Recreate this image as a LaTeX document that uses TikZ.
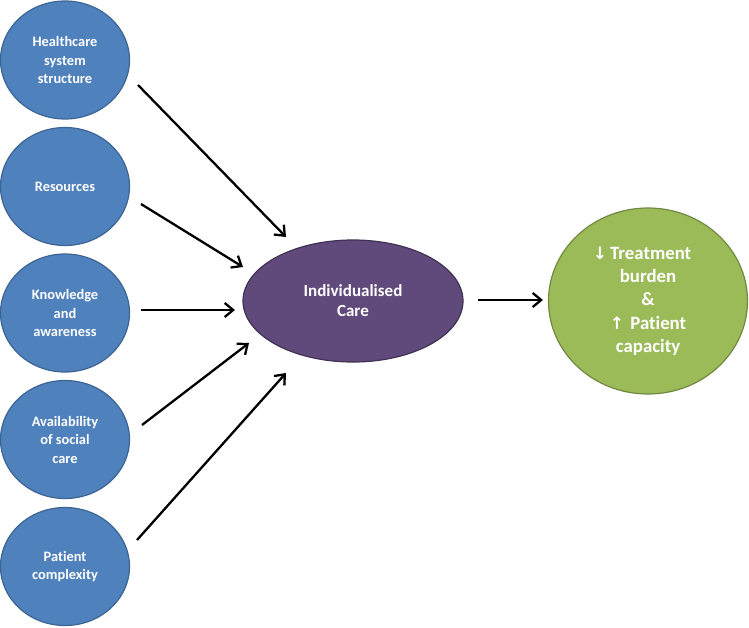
\documentclass[tikz,border=0pt]{standalone}
\usepackage{fontspec}
\setmainfont[Ligatures=NoCommon]{Carlito}
\newfontfamily\arrfont{DejaVu Sans}
\usetikzlibrary{shapes.geometric,arrows.meta}
\definecolor{bluefill}{HTML}{4F81BD}
\definecolor{blueline}{HTML}{3C6494}
\definecolor{purplefill}{HTML}{604A7B}
\definecolor{purpleline}{HTML}{3F3151}
\definecolor{greenfill}{HTML}{9BBB59}
\definecolor{greenline}{HTML}{71893F}
\tikzset{
  factor/.style={ellipse, draw=blueline, fill=bluefill, line width=1.2pt,
    minimum width=129pt, minimum height=118pt, inner sep=0pt,
    text=white, align=center, font=\bfseries\fontsize{14.4}{18.5}\selectfont},
  care/.style={ellipse, draw=purpleline, fill=purplefill, line width=1.2pt,
    minimum width=220pt, minimum height=122pt, inner sep=0pt,
    text=white, align=center, font=\bfseries\fontsize{17}{20}\selectfont},
  outcome/.style={ellipse, draw=greenline, fill=greenfill, line width=1.2pt,
    minimum width=199pt, minimum height=186pt, inner sep=0pt,
    text=white, align=center, font=\bfseries\fontsize{18.8}{23.3}\selectfont},
  conn/.style={line width=2.3pt, -{Straight Barb[length=8.5pt,width=14pt,line width=2.3pt]}}
}
\begin{document}
\begin{tikzpicture}[x=1pt,y=-1pt]
\useasboundingbox (0,0) rectangle (749,627);
\node[factor] (hc) at (65,60) {Healthcare\\system\\structure};
\node[factor] (res) at (65,186.5) {Resources};
\node[factor] (kn) at (65,313) {Knowledge\\and\\awareness};
\node[factor] (av) at (65,439.5) {Availability\\of social\\care};
\node[factor] (pc) at (65,566.5) {Patient\\complexity};
\node[care] (ic) at (353,301) {Individualised\\Care};
\node[outcome] (out) at (648,301) {{\arrfont\fontsize{17}{17}\selectfont↓}\,Treatment\hspace*{12pt}\\burden\\\&\\{\arrfont\fontsize{17}{17}\selectfont↑}\,\,Patient\hspace*{14pt}\\capacity};
\coordinate (a1s) at (138,85);  \coordinate (a1e) at (286,237);
\coordinate (a2s) at (141,204); \coordinate (a2e) at (243,267);
\coordinate (a3s) at (141,310); \coordinate (a3e) at (235,310);
\coordinate (a4s) at (142,425); \coordinate (a4e) at (249,343);
\coordinate (a5s) at (137,540); \coordinate (a5e) at (286,373);
\coordinate (a6s) at (478,300); \coordinate (a6e) at (543,300);
\draw[conn] (a1s) -- (a1e);
\draw[conn] (a2s) -- (a2e);
\draw[conn] (a3s) -- (a3e);
\draw[conn] (a4s) -- (a4e);
\draw[conn] (a5s) -- (a5e);
\draw[conn] (a6s) -- (a6e);
\end{tikzpicture}
\end{document}
